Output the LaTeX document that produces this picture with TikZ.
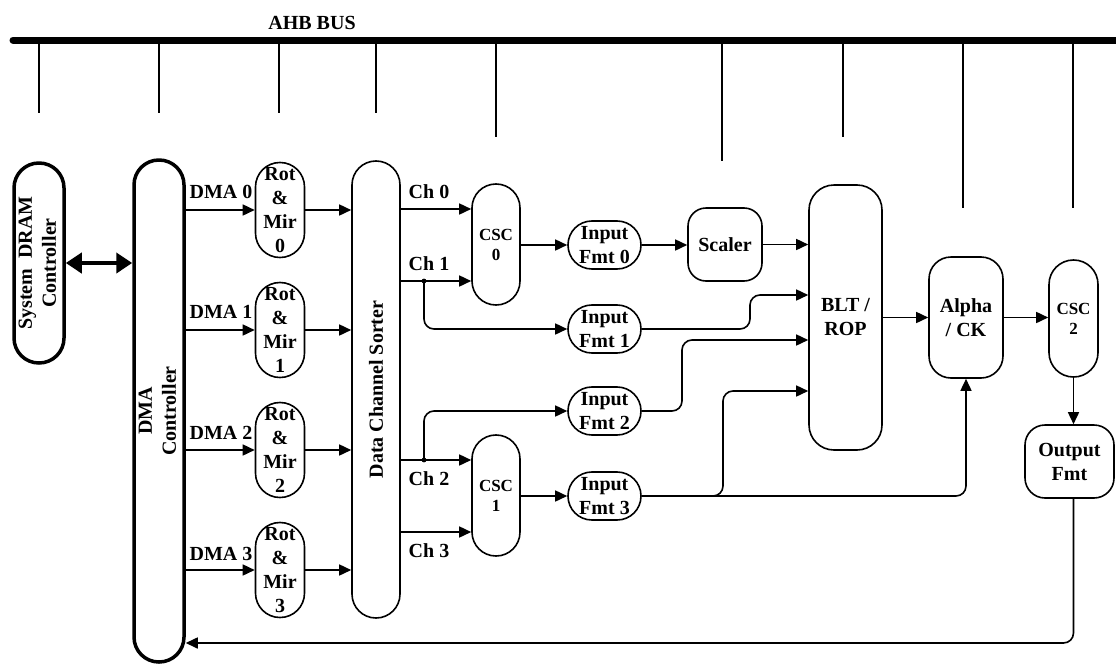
\documentclass[tikz,border=0pt]{standalone}
\usepackage{fontspec}
\setmainfont{Liberation Serif}
\usepackage{graphicx}
\usetikzlibrary{arrows.meta,calc}
\newcommand\bigfont{\fontsize{20}{24}\selectfont\bfseries}
\newcommand\smallfont{\fontsize{17}{20}\selectfont\bfseries}
\begin{document}
\begin{tikzpicture}[x=1pt,y=-1pt,
  ln/.style={line width=1.6pt},
  arr/.style={ln,-{Triangle[length=12pt,width=11pt]}},
  blk/.style={draw,ln,inner sep=0pt,align=center,font=\bigfont},
  thickblk/.style={blk,line width=3.5pt},
  lbl/.style={inner sep=0pt,font=\bigfont},
  dblarr/.style={line width=4.5pt,{Triangle[length=16pt,width=20pt]}-{Triangle[length=16pt,width=20pt]}}
]
\useasboundingbox (0,0) rectangle (1116,664);

% AHB bus
\coordinate (busL) at (13,40);
\coordinate (busR) at (1116,40);
\draw[line width=7pt,line cap=round] (busL) -- (busR);
\node[lbl,anchor=base] (ahb) at (312,29) {AHB BUS};
\foreach \x/\e in {39/113,159/113,279/113,376/113,496/137,722/161,843/137,963/208,1073/208}
  \draw[ln] (\x,40) -- (\x,\e);

% blocks
\node[thickblk,minimum width=50pt,minimum height=200pt,rounded corners=24.9pt] (dram) at (39,263)
  {\rotatebox{90}{\begin{tabular}{@{}c@{}}System\ \ DRAM\\Controller\end{tabular}}};
\node[thickblk,minimum width=50pt,minimum height=502pt,rounded corners=24.9pt] (dmac) at (159,411)
  {\rotatebox{90}{\begin{tabular}{@{}c@{}}DMA\\Controller\end{tabular}}};

\foreach \i/\y in {0/210,1/330,2/450,3/570}
  \node[blk,minimum width=49pt,minimum height=95pt,rounded corners=24.4pt] (rot\i) at (280,\y) {Rot\\\&\\Mir\\\i};

\node[blk,minimum width=48pt,minimum height=457pt,rounded corners=23.9pt] (dcs) at (376,389.5)
  {\rotatebox{90}{Data Channel Sorter}};

\node[blk,font=\smallfont,minimum width=48pt,minimum height=121pt,rounded corners=23.9pt] (csc0) at (496,244.5) {CSC\\0};
\node[blk,font=\smallfont,minimum width=48pt,minimum height=121pt,rounded corners=23.9pt] (csc1) at (496,495.5) {CSC\\1};

\foreach \i/\y in {0/245,1/329,2/411,3/496}
  \node[blk,minimum width=73pt,minimum height=48pt,rounded corners=23.9pt] (if\i) at (604.5,\y) {Input\\Fmt \i};

\node[blk,minimum width=74pt,minimum height=73pt,rounded corners=18pt] (scaler) at (725,244.5) {Scaler};
\node[blk,minimum width=73pt,minimum height=265pt,rounded corners=25pt] (blt) at (845.5,317.5) {BLT /\\ROP};
\node[blk,minimum width=74pt,minimum height=121pt,rounded corners=22pt] (alpha) at (966,317.5) {Alpha\\/ CK};
\node[blk,font=\smallfont,minimum width=49pt,minimum height=117pt,rounded corners=24.4pt] (csc2) at (1073.5,318.5) {CSC\\2};
\node[blk,minimum width=89pt,minimum height=73pt,rounded corners=20pt] (ofmt) at (1069.5,461.5) {Output\\Fmt};

% labels
\node[lbl,anchor=base] (ld0) at (221,198) {DMA 0};
\node[lbl,anchor=base] (ld1) at (221,318) {DMA 1};
\node[lbl,anchor=base] (ld2) at (221,439) {DMA 2};
\node[lbl,anchor=base] (ld3) at (221,560) {DMA 3};
\node[lbl,anchor=base] (lc0) at (429,198) {Ch 0};
\node[lbl,anchor=base] (lc1) at (429,270) {Ch 1};
\node[lbl,anchor=base] (lc2) at (429,485) {Ch 2};
\node[lbl,anchor=base] (lc3) at (429,557) {Ch 3};

% connectors
\draw[dblarr] (dram.east) -- (dram.east -| dmac.west);
\foreach \i in {0,1,2,3}{
  \draw[arr] (dmac.east |- rot\i.west) -- (rot\i.west);
  \draw[arr] (rot\i.east) -- (rot\i.east -| dcs.west);
}
\coordinate (c0) at ([yshift=35.5pt]csc0.west);
\coordinate (c1) at ([yshift=-36.5pt]csc0.west);
\coordinate (c2) at ([yshift=35.5pt]csc1.west);
\coordinate (c3) at ([yshift=-36.5pt]csc1.west);
\foreach \c in {c0,c1,c2,c3}
  \draw[arr] (dcs.east |- \c) -- (\c);

\coordinate (j1) at (424,281);
\coordinate (j2) at (424,460);
\fill (j1) circle (2.4pt);
\fill (j2) circle (2.4pt);
\draw[arr,rounded corners=10pt] (j1) |- (if1.west);
\draw[arr,rounded corners=10pt] (j2) |- (if2.west);

\draw[arr] (csc0.east |- if0.west) -- (if0.west);
\draw[arr] (csc1.east |- if3.west) -- (if3.west);
\draw[arr] (if0.east) -- (if0.east -| scaler.west);
\draw[arr] (scaler.east) -- (scaler.east -| blt.west);

\coordinate (b1) at ([yshift=22.5pt]blt.west);
\coordinate (b2) at ([yshift=-22.5pt]blt.west);
\coordinate (b3) at ([yshift=-73.5pt]blt.west);
\coordinate (v1) at (750,0);
\coordinate (v2) at (682,0);
\coordinate (v3) at (723,0);
\draw[arr,rounded corners=10pt] (if1.east) -| (v1 |- b1) -- (b1);
\draw[arr,rounded corners=10pt] (if2.east) -| (v2 |- b2) -- (b2);
\draw[arr,rounded corners=10pt] (if3.east) -| (v3 |- b3) -- (b3);
\draw[arr,rounded corners=10pt] (if3.east) -| (alpha.south);

\draw[arr] (blt.east |- alpha.west) -- (alpha.west);
\draw[arr] (alpha.east) -- (alpha.east -| csc2.west);
\draw[arr] (csc2.south) -- (csc2.south |- ofmt.north);
\coordinate (fb) at (0,643);
\draw[arr,rounded corners=10pt] (ofmt.south -| csc2.south) |- (fb -| dmac.east);
\end{tikzpicture}
\end{document}
